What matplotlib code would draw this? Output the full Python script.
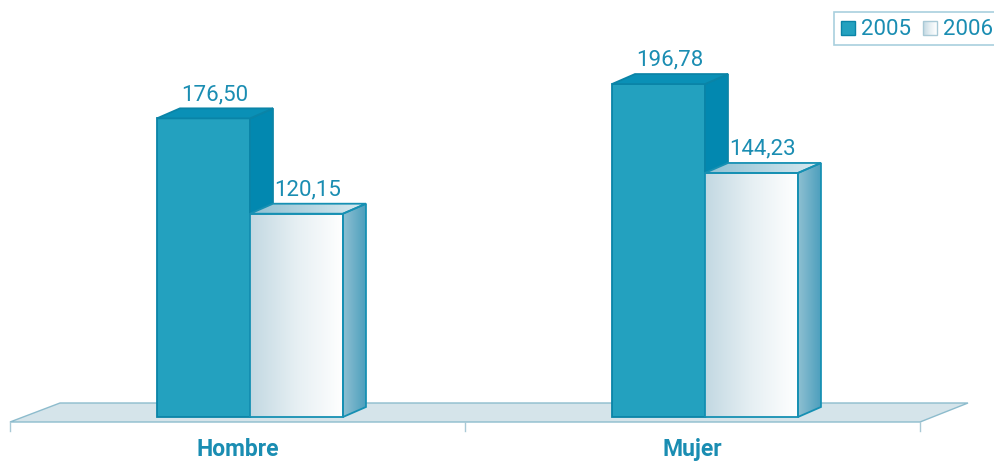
import numpy as np
import matplotlib.pyplot as plt
from matplotlib.patches import Polygon, Rectangle
from matplotlib.colors import LinearSegmentedColormap

categories = ["Hombre", "Mujer"]
series = ["2005", "2006"]
values_2005 = [176.50, 196.78]
values_2006 = [120.15, 144.23]

def fmt(v):
    return f"{v:.2f}".replace(".", ",")

W, H = 995, 464
fig = plt.figure(figsize=(W / 100, H / 100), dpi=100)
ax = fig.add_axes([0, 0, 1, 1])
ax.axis("off")

# scale helpers (pixel geometry -> data units)
CAT_PX = 455.0      # pixels between category centres
X0_PX = 237.5       # pixel of first category centre
Y0_PX = 418.0       # pixel of value 0
PX_PER_UNIT = 1.692

def px2x(p):
    return (p - X0_PX) / CAT_PX

def px2y(p):
    return (Y0_PX - p) / PX_PER_UNIT

XLIM = (px2x(0), px2x(W))
YLIM = (px2y(H), px2y(0))

TXT = "#1a8db2"

# floor
floor = Polygon([(px2x(10), px2y(423)), (px2x(60), px2y(404)),
                 (px2x(968), px2y(404)), (px2x(920), px2y(423))],
                closed=True, facecolor="#d5e4ea", edgecolor="#8dbccd", lw=1.0, zorder=1)
ax.add_patch(floor)
for p in (10, 465, 920):
    ax.plot([px2x(p), px2x(p)], [px2y(423), px2y(432)], color="#a9c9d6", lw=1.0, zorder=1)

bar_w = 93 / CAT_PX
dx = 23 / CAT_PX
dy = 10 / PX_PER_UNIT
offs = [-0.177, -0.177 + bar_w]

cm_front06 = LinearSegmentedColormap.from_list("f06", ["#c2d8e2", "#e6eff3", "#ffffff"])
cm_side06 = LinearSegmentedColormap.from_list("s06", ["#8fc0d2", "#4c9fbd"])
cm_top06 = LinearSegmentedColormap.from_list("t06", ["#8fc0d2", "#d9eaf0"])

def grad_fill(poly_pts, cmap, z):
    xs = [p[0] for p in poly_pts]
    ys = [p[1] for p in poly_pts]
    poly = Polygon(poly_pts, closed=True, facecolor="none", edgecolor="none")
    ax.add_patch(poly)
    g = np.linspace(0, 1, 256).reshape(1, -1)
    im = ax.imshow(g, cmap=cmap, extent=[min(xs), max(xs), min(ys), max(ys)],
                   aspect="auto", zorder=z, interpolation="bilinear")
    im.set_clip_path(poly)

def draw_bar(x0, h, style, z):
    front = [(x0, 0), (x0, h), (x0 + bar_w, h), (x0 + bar_w, 0)]
    side = [(x0 + bar_w, 0), (x0 + bar_w + dx, dy), (x0 + bar_w + dx, h + dy), (x0 + bar_w, h)]
    top = [(x0, h), (x0 + dx, h + dy), (x0 + bar_w + dx, h + dy), (x0 + bar_w, h)]
    if style == "2005":
        ec = "#0a84a7"
        ax.add_patch(Polygon(front, closed=True, facecolor="#23a1bf", edgecolor=ec, lw=1.3, zorder=z))
        ax.add_patch(Polygon(side, closed=True, facecolor="#0288b0", edgecolor=ec, lw=1.3, zorder=z))
        ax.add_patch(Polygon(top, closed=True, facecolor="#0a90b6", edgecolor=ec, lw=1.3, zorder=z))
    else:
        ec = "#1690b3"
        grad_fill(front, cm_front06, z)
        grad_fill(side, cm_side06, z)
        grad_fill(top, cm_top06, z)
        for pts in (front, side, top):
            ax.add_patch(Polygon(pts, closed=True, facecolor="none", edgecolor=ec, lw=1.3, zorder=z + 0.1))
    ax.text(x0 + bar_w / 2 + dx / 2, h + dy + 2.5, fmt(h), ha="center", va="bottom",
            fontsize=16, family=["Roboto", "DejaVu Sans"], color=TXT, zorder=z + 1)

for i, cat in enumerate(categories):
    draw_bar(i + offs[0], values_2005[i], "2005", 3 + i * 2)
    draw_bar(i + offs[1], values_2006[i], "2006", 4 + i * 2)
    ax.text(i, px2y(450), cat, ha="center", va="center", fontsize=16.5, fontweight="bold",
            family=["Roboto", "DejaVu Sans"], color=TXT)

# legend (drawn manually, clipped at the right edge like the reference)
def fx(p):
    return p / W

def fy(p):
    return 1 - p / H

ax.add_patch(Rectangle((fx(834), fy(46)), fx(200), (46 - 13) / H, transform=ax.transAxes,
                       facecolor="white", edgecolor="#a9d0de", lw=1.2, zorder=10, clip_on=False))
ax.add_patch(Rectangle((fx(841), fy(36)), fx(14), 14 / H, transform=ax.transAxes,
                       facecolor="#23a1bf", edgecolor="#0a84a7", lw=1, zorder=11))
sq2 = Rectangle((fx(923), fy(36)), fx(14), 14 / H, transform=ax.transAxes,
                facecolor="none", edgecolor="#a9c9d6", lw=1, zorder=12)
ax.add_patch(sq2)
g = np.linspace(0, 1, 64).reshape(1, -1)
im = ax.imshow(g, cmap=cm_front06, extent=[px2x(923), px2x(937), px2y(36), px2y(22)],
               aspect="auto", zorder=11)
ax.text(fx(861), fy(29.5), series[0], transform=ax.transAxes, ha="left", va="center",
        fontsize=16, family=["Roboto", "DejaVu Sans"], color=TXT, zorder=12)
ax.text(fx(943), fy(29.5), series[1], transform=ax.transAxes, ha="left", va="center",
        fontsize=16, family=["Roboto", "DejaVu Sans"], color=TXT, zorder=12)

ax.set_xlim(*XLIM)
ax.set_ylim(*YLIM)
fig.savefig("out.png", dpi=100, facecolor="white")
